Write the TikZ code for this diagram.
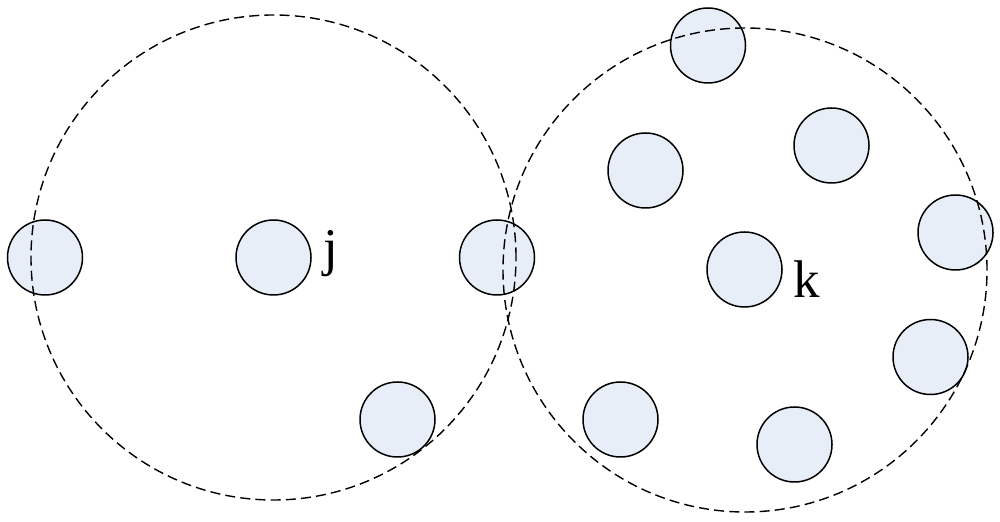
\documentclass[tikz,border=0pt]{standalone}
\usepackage{fontspec}
\setmainfont{Liberation Serif}
\definecolor{nodefill}{RGB}{232,238,248}
\tikzset{
  sensor/.style={circle, draw=black, line width=0.75pt, fill=nodefill, minimum size=37.5pt, inner sep=0pt},
  coverage/.style={circle, draw=black, line width=0.7pt, dash pattern=on 5pt off 2.6pt, inner sep=0pt},
  lbl/.style={inner sep=0pt, anchor=base, font=\fontsize{26.5}{30}\selectfont}
}
\begin{document}
\begin{tikzpicture}[x=0.5pt,y=-0.5pt]
\useasboundingbox (0,0) rectangle (1000,522);
% left cluster
\node[sensor] (a1) at (45,257.5) {};
\node[sensor] (j) at (273.5,257.5) {};
\node[sensor] (a3) at (497,257.5) {};
\node[sensor] (a4) at (397.5,419.5) {};
% right cluster
\node[sensor] (b1) at (708,45.5) {};
\node[sensor] (b2) at (645.5,170.5) {};
\node[sensor] (b3) at (831.5,145.5) {};
\node[sensor] (b4) at (955.5,232.5) {};
\node[sensor] (k) at (744.5,269.5) {};
\node[sensor] (b6) at (930.5,357) {};
\node[sensor] (b7) at (620.5,419.5) {};
\node[sensor] (b8) at (794.5,444.5) {};
% labels
\node[lbl] (jl) at (331,266) {j};
\node[lbl] (kl) at (807,298) {k};
% ranges
\node[coverage, minimum size=242.5pt] (rj) at (273.5,257.5) {};
\node[coverage, minimum size=242pt] (rk) at (745,270) {};
\end{tikzpicture}
\end{document}
